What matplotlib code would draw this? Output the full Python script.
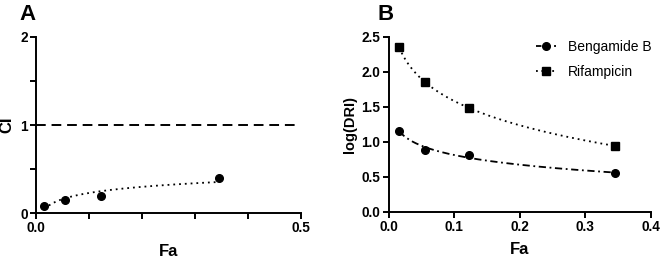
import numpy as np
import matplotlib.pyplot as plt
from matplotlib.ticker import MultipleLocator, FormatStrFormatter
from matplotlib.lines import Line2D

plt.rcParams['font.family'] = ['Liberation Sans', 'DejaVu Sans']

fa = [0.016, 0.055, 0.123, 0.345]
ci = [0.075, 0.15, 0.19, 0.40]
dri_beng = [1.16, 0.89, 0.81, 0.55]
dri_rif = [2.35, 1.85, 1.49, 0.94]


def fit_curve(x, y, deg):
    # smooth fitted curve in log(Fa)
    c = np.polyfit(np.log(x), y, deg)
    xs = np.linspace(min(x), max(x), 200)
    return xs, np.polyval(c, np.log(xs))


def style_axes(ax):
    for s in ['top', 'right']:
        ax.spines[s].set_visible(False)
    for s in ['left', 'bottom']:
        ax.spines[s].set_linewidth(1.4)
    ax.tick_params(which='major', length=4, width=1.4, labelsize=9.8, pad=2)
    ax.tick_params(which='minor', length=4, width=1.4)


fig = plt.figure(figsize=(6.6, 2.58), dpi=100)

# panel A
axA = fig.add_axes([0.0545, 0.174, 0.4015, 0.683])
axA.axhline(1, xmin=0, xmax=0.98, color='black', lw=1.4, dashes=(5, 3))
xs, ys = fit_curve(fa, ci, 1)
axA.plot(xs, ys, color='black', lw=1.3, dashes=(1, 2.2))
axA.plot(fa, ci, 'o', color='black', ms=5.5)
axA.set_xlim(0, 0.5)
axA.set_ylim(0, 2)
axA.set_xticks([0, 0.5])
axA.xaxis.set_major_formatter(FormatStrFormatter('%.1f'))
axA.xaxis.set_minor_locator(MultipleLocator(0.1))
axA.set_yticks([0, 1, 2])
axA.yaxis.set_minor_locator(MultipleLocator(0.5))
style_axes(axA)
axA.set_xlabel('Fa', fontsize=12, fontweight='bold', labelpad=6)
axA.set_ylabel('CI', fontsize=12, fontweight='bold', labelpad=4)
fig.text(0.03, 0.945, 'A', fontsize=16, fontweight='bold', va='center')

# panel B
axB = fig.add_axes([0.589, 0.179, 0.397, 0.678])
xs, ys = fit_curve(fa, dri_beng, 2)
axB.plot(xs, ys, color='black', lw=1.3, dashes=(4, 2, 1, 2))
xs, ys = fit_curve(fa, dri_rif, 2)
axB.plot(xs, ys, color='black', lw=1.3, dashes=(1, 2.2))
axB.plot(fa, dri_beng, 'o', color='black', ms=5.5)
axB.plot(fa, dri_rif, 's', color='black', ms=5.5)
axB.set_xlim(0, 0.4)
axB.set_ylim(0, 2.5)
axB.xaxis.set_major_locator(MultipleLocator(0.1))
axB.yaxis.set_major_locator(MultipleLocator(0.5))
axB.xaxis.set_major_formatter(FormatStrFormatter('%.1f'))
axB.yaxis.set_major_formatter(FormatStrFormatter('%.1f'))
style_axes(axB)
axB.set_xlabel('Fa', fontsize=12, fontweight='bold', labelpad=6)
axB.set_ylabel('log(DRI)', fontsize=10.5, fontweight='bold', labelpad=3)

h1 = Line2D([], [], color='black', marker='o', ms=5.5, lw=1.3, dashes=(3, 2))
h2 = Line2D([], [], color='black', marker='s', ms=5.5, lw=1.3, dashes=(1, 2))
axB.legend([h1, h2], ['Bengamide B', 'Rifampicin'], loc='upper right', frameon=False,
           fontsize=10, handlelength=1.4, handletextpad=0.9,
           borderaxespad=0.1, labelspacing=0.75, bbox_to_anchor=(1.03, 1.02))
fig.text(0.572, 0.945, 'B', fontsize=16, fontweight='bold', va='center')

# bold tick labels
fig.canvas.draw()
for ax in [axA, axB]:
    plt.setp(ax.get_xticklabels() + ax.get_yticklabels(), fontweight='bold')

fig.savefig('out.png', dpi=100)
